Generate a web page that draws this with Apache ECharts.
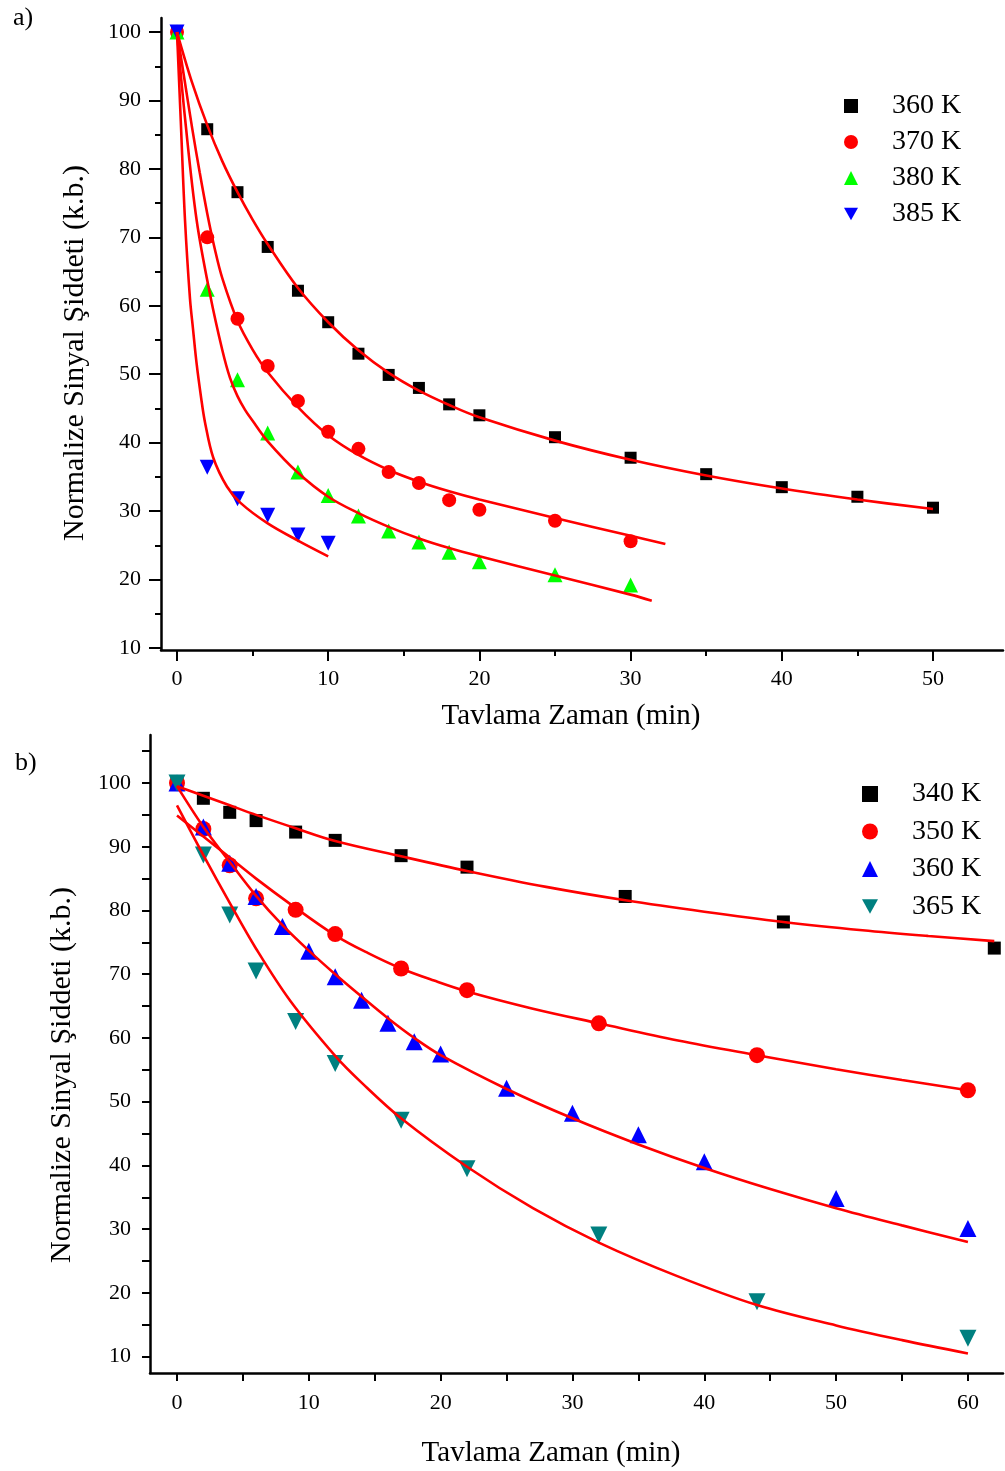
<!DOCTYPE html>
<html><head><meta charset="utf-8">
<script src="https://cdn.jsdelivr.net/npm/echarts@6/dist/echarts.min.js"></script>
<style>html,body{margin:0;padding:0;background:#fff}#c{width:1005px;height:1471px}</style>
</head><body><div id="c"></div>
<script>
// ---------- Panel a) ----------
const aX360 = [0,2,4,6,8,10,12,14,16,18,20,25,30,35,40,45,50];
const aY360 = [100,85.8,76.6,68.6,62.2,57.6,53.0,49.9,48.0,45.6,44.0,40.8,37.8,35.4,33.5,32.1,30.5];
const aX370 = [0,2,4,6,8,10,12,14,16,18,20,25,30];
const aY370 = [100,70.0,58.1,51.2,46.1,41.6,39.1,35.7,34.1,31.6,30.2,28.6,25.6];
const aX380 = [0,2,4,6,8,10,12,14,16,18,20,25,30];
const aY380 = [100,62.4,49.2,41.4,35.7,32.3,29.3,27.1,25.5,24.0,22.6,20.7,19.2];
const aX385 = [0,2,4,6,8,10];
const aY385 = [100,36.4,31.8,29.4,26.5,25.3];
// fitted curves
const aFitX360 = [0,1,2,3,4,5,6,8,10,12,14,16,18,20,25,30,35,40,45,50];
const aFitY360 = [100,92.6,86.4,81.1,76.6,72.6,69.0,62.6,57.6,53.5,50.2,47.6,45.5,43.7,40.3,37.5,35.2,33.3,31.7,30.3];
const aFitX370 = [0,0.5,1,1.5,2,2.5,3,4,5,6,8,10,12,14,16,18,20,25,30,32.3];
const aFitY370 = [100,93,86,79.5,73.5,68.3,64,57.8,53.6,50.3,45.2,41.1,38.2,36.0,34.3,32.9,31.7,29.0,26.4,25.2];
const aFitX380 = [0,0.55,1.3,2.2,3,3.5,4,4.5,5,6,8,10,12,14,16,18,20,25,30,31.4];
const aFitY380 = [100,87,72.5,61.5,53.5,49.5,46.8,44.8,43.2,40.2,35.6,32.1,29.7,27.7,26.0,24.6,23.4,20.6,17.8,16.9];
const aFitX385 = [0,0.25,0.53,0.86,1.06,1.3,1.6,1.85,2.4,3.3,4.2,6,8,10];
const aFitY385 = [100,87,72.5,61,56.6,51.5,46.5,43,37.8,33.6,31.2,28.2,25.7,23.4];
const aXTicks = [0,10,20,30,40,50];
const aXMinor = [5,15,25,35,45];
const aYTicks = [10,20,30,40,50,60,70,80,90,100];
const aYMinor = [15,25,35,45,55,65,75,85,95];

// ---------- Panel b) ----------
const bX340 = [0,2,4,6,9,12,17,22,34,46,62];
const bY340 = [100,97.6,95.4,94.1,92.3,91.0,88.6,86.8,82.2,78.2,74.1];
const bX350 = [0,2,4,6,9,12,17,22,32,44,60];
const bY350 = [100,92.8,87.1,81.9,80.1,76.3,70.9,67.5,62.3,57.3,51.8];
const bX360 = [0,2,4,6,8,10,12,14,16,18,20,25,30,35,40,50,60];
const bY360 = [100,93.1,87.4,82.2,77.5,73.6,69.6,65.9,62.3,59.4,57.5,52.1,48.2,44.8,40.6,34.8,30.1];
const bX365 = [0,2,4,6,9,12,17,22,32,44,60];
const bY365 = [100,88.7,79.3,70.5,62.6,56.0,47.1,39.5,29.1,18.6,12.9];
const bFitX340 = [0,2,4,6,9,12,17,22,28,34,40,46,52,57,62];
const bFitY340 = [99.5,98.0,96.5,95.0,92.9,90.9,88.5,86.2,83.7,81.6,79.8,78.2,76.9,76.0,75.2];
const bFitX350 = [0,2,4,6,8.6,12,14.5,17,19.5,22,27,32,38,44,50,55,60];
const bFitY350 = [94.9,91.6,88.3,85.0,81.0,76.1,73.3,70.9,69.0,67.3,64.6,62.3,59.6,57.3,55.1,53.4,51.8];
const bFitX360 = [0,2,4,6,8,10,12,14,16,18,20,25,30,35,40,45,50,55,60];
const bFitY360 = [99.5,93.1,87.6,82.3,77.7,73.7,70.0,66.5,63.1,60.0,57.3,52.0,47.4,43.3,39.6,36.3,33.3,30.6,28.0];
const bFitX365 = [0,2,4,6,8.6,12,14,17,22,27,32,38,44,50,55,60];
const bFitY365 = [96.5,88.7,81.2,74.0,65.8,57.2,53.0,47.4,39.8,33.3,27.9,22.6,18.1,14.9,12.6,10.5];
const bXTicks = [0,10,20,30,40,50,60];
const bXMinor = [5,15,25,35,45,55];
const bYTicks = [10,20,30,40,50,60,70,80,90,100];
const bYMinor = [15,25,35,45,55,65,75,85,95,105];

const FONT = "'Liberation Serif','Times New Roman',serif";
const zip = (xs, ys) => xs.map((x, i) => [x, ys[i]]);
const labelMap = {a360:'360 K',a370:'370 K',a380:'380 K',a385:'385 K',b340:'340 K',b350:'350 K',b360:'360 K',b365:'365 K'};
const DOWN_TRI = 'path://M0,0L10,0L5,9Z';

function majorX(grid, min, max, ticks, name, gap, pad, tickLen, margin) {
  return {gridIndex:grid, type:'value', min, max, position:'bottom',
    axisLine:{show:true, onZero:false, lineStyle:{color:'#000', width:2.5}},
    axisTick:{show:true, length:tickLen, customValues:ticks, lineStyle:{color:'#000', width:2}},
    axisLabel:{customValues:ticks, fontSize:22, fontFamily:FONT, color:'#000', margin},
    splitLine:{show:false},
    name, nameLocation:'middle', nameGap:gap,
    nameTextStyle:{fontSize:29, fontFamily:FONT, color:'#000', padding:pad}};
}
function minorX(grid, min, max, ticks, len) {
  return {gridIndex:grid, type:'value', min, max, position:'bottom',
    axisLine:{show:false, onZero:false}, axisTick:{show:true, length:len, customValues:ticks, lineStyle:{color:'#000', width:2}},
    axisLabel:{show:false}, splitLine:{show:false}};
}
function majorY(grid, min, max, ticks, name, gap, pad, tickLen, margin) {
  return {gridIndex:grid, type:'value', min, max, position:'left',
    axisLine:{show:true, onZero:false, lineStyle:{color:'#000', width:2.5}},
    axisTick:{show:true, length:tickLen, customValues:ticks, lineStyle:{color:'#000', width:2}},
    axisLabel:{customValues:ticks, fontSize:22, fontFamily:FONT, color:'#000', margin},
    splitLine:{show:false},
    name, nameLocation:'middle', nameGap:gap,
    nameTextStyle:{fontSize:30, fontFamily:FONT, color:'#000', padding:pad}};
}
function minorY(grid, min, max, ticks, len) {
  return {gridIndex:grid, type:'value', min, max, position:'left',
    axisLine:{show:false, onZero:false}, axisTick:{show:true, length:len, customValues:ticks, lineStyle:{color:'#000', width:2}},
    axisLabel:{show:false}, splitLine:{show:false}};
}
function scatter(name, xi, yi, data, symbol, size, color, rotate) {
  return {name, type:'scatter', xAxisIndex:xi, yAxisIndex:yi, data, symbol, symbolSize:size,
    symbolRotate:rotate || 0, itemStyle:{color, opacity:1}, z:2, silent:true, animation:false};
}
function fit(xi, yi, data) {
  return {name:'fit', type:'line', xAxisIndex:xi, yAxisIndex:yi, data, smooth:0.35,
    showSymbol:false, symbol:'none', lineStyle:{color:'#ff0000', width:2.6}, z:3, silent:true, animation:false};
}

const option = {
  backgroundColor:'#fff',
  animation:false,
  title:[
    {text:'a)', left:8, top:0, textStyle:{fontSize:26, fontWeight:'normal', fontFamily:FONT, color:'#000'}},
    {text:'b)', left:10, top:745, textStyle:{fontSize:26, fontWeight:'normal', fontFamily:FONT, color:'#000'}}
  ],
  grid:[
    {left:161, top:18, width:842, height:632, containLabel:false},
    {left:150, top:735, width:853, height:638, containLabel:false}
  ],
  xAxis:[
    majorX(0, -1.058, 54.63, aXTicks, 'Tavlama Zaman (min)', 52, [0,22,0,0], 11, 18),
    minorX(0, -1.058, 54.63, aXMinor, 6),
    majorX(1, -2.048, 62.66, bXTicks, 'Tavlama Zaman (min)', 66, [0,51,0,0], 8, 19),
    minorX(1, -2.048, 62.66, bXMinor, 8)
  ],
  yAxis:[
    majorY(0, 9.708, 102.05, aYTicks, 'Normalize Sinyal Şiddeti (k.b.)', 71, [0,38,0,0], 12, 20),
    minorY(0, 9.708, 102.05, aYMinor, 6),
    majorY(1, 7.44, 107.53, bYTicks, 'Normalize Sinyal Şiddeti (k.b.)', 73, [0,42,0,0], 8, 19),
    minorY(1, 7.44, 107.53, bYMinor, 8)
  ],
  legend:[
    {data:['a360','a370','a380',{name:'a385', icon:DOWN_TRI}], orient:'vertical', left:839, top:87, itemWidth:14, itemHeight:14, itemGap:8,
     formatter:n => labelMap[n], selectedMode:false,
     textStyle:{fontSize:28, fontFamily:FONT, color:'#000', padding:[0,0,0,29]}},
    {data:['b340','b350','b360',{name:'b365', icon:DOWN_TRI}], orient:'vertical', left:857, top:775, itemWidth:16, itemHeight:16, itemGap:9.5,
     formatter:n => labelMap[n], selectedMode:false,
     textStyle:{fontSize:28, fontFamily:FONT, color:'#000', padding:[0,0,0,29]}}
  ],
  series:[
    scatter('a360', 0, 0, zip(aX360, aY360), 'rect', 12, '#000000'),
    scatter('a370', 0, 0, zip(aX370, aY370), 'circle', 14, '#ff0000'),
    scatter('a380', 0, 0, zip(aX380, aY380), 'triangle', 15, '#00ff00'),
    scatter('a385', 0, 0, zip(aX385, aY385), 'triangle', 15, '#0000ff', 180),
    fit(0, 0, zip(aFitX360, aFitY360)),
    fit(0, 0, zip(aFitX370, aFitY370)),
    fit(0, 0, zip(aFitX380, aFitY380)),
    fit(0, 0, zip(aFitX385, aFitY385)),
    scatter('b340', 2, 2, zip(bX340, bY340), 'rect', 13, '#000000'),
    scatter('b350', 2, 2, zip(bX350, bY350), 'circle', 16, '#ff0000'),
    scatter('b360', 2, 2, zip(bX360, bY360), 'triangle', 17, '#0000ff'),
    scatter('b365', 2, 2, zip(bX365, bY365), 'triangle', 17, '#008080', 180),
    fit(2, 2, zip(bFitX340, bFitY340)),
    fit(2, 2, zip(bFitX350, bFitY350)),
    fit(2, 2, zip(bFitX360, bFitY360)),
    fit(2, 2, zip(bFitX365, bFitY365))
  ]
};
const chart = echarts.init(document.getElementById('c'), null, {renderer:'canvas'});
chart.setOption(option);
</script>
</body></html>
